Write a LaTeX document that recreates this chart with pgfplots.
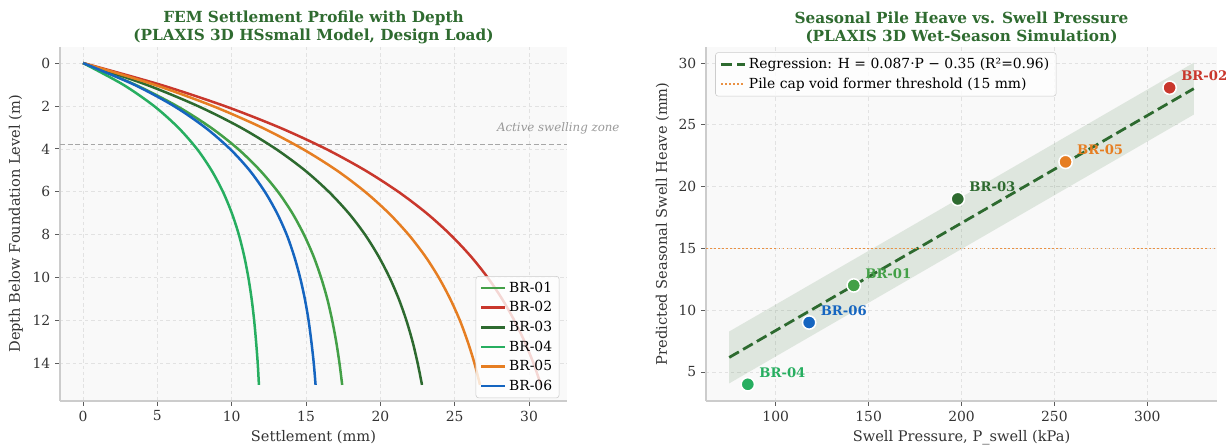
\documentclass[border=0pt]{standalone}
\usepackage{fontspec}
\setmainfont{DejaVu Serif}
\usepackage{pgfplots}
\pgfplotsset{compat=1.18}
\definecolor{cA}{HTML}{43A047}
\definecolor{cB}{HTML}{C9372C}
\definecolor{cC}{HTML}{2D6A2F}
\definecolor{cD}{HTML}{27AE60}
\definecolor{cE}{HTML}{E67E22}
\definecolor{cF}{HTML}{1565C0}
\definecolor{ttl}{HTML}{2F6B30}
\definecolor{bgc}{HTML}{F9F9F9}
\definecolor{gridc}{HTML}{E2E2E2}
\definecolor{spc}{HTML}{CCCCCC}
\definecolor{txc}{HTML}{333333}
\pgfplotsset{
  myax/.style={
    scale only axis,
    axis background/.style={fill=bgc},
    axis x line*=bottom, axis y line*=left,
    axis line style={draw=spc, line width=0.8pt, -},
    tick align=outside, major tick length=3.5pt,
    tick style={draw=txc!80, line width=0.6pt},
    xmajorgrids, ymajorgrids,
    grid style={dash pattern=on 2.5pt off 2pt, draw=gridc, line width=0.5pt},
    tick label style={font=\fontsize{10}{12}\selectfont, text=txc},
    label style={font=\fontsize{10.5}{12}\selectfont, text=txc},
    /pgf/number format/assume math mode=true,
    title style={font=\fontsize{11}{13}\selectfont\bfseries, text=ttl, align=center, yshift=-7.5pt},
    legend style={font=\fontsize{10}{12}\selectfont, draw=spc, fill=white, fill opacity=0.8, text opacity=1, rounded corners=2pt, row sep=1.2pt},
    legend cell align=left,
  }
}
\begin{document}
\begin{tikzpicture}
\useasboundingbox (0,0) rectangle (883.4pt,320.4pt);
\begin{axis}[myax,
  at={(43.2pt,31.7pt)}, anchor=south west, width=365pt, height=254.9pt,
  xmin=-1.55, xmax=32.55, ymin=-0.75, ymax=15.75, y dir=reverse,
  xtick={0,5,10,15,20,25,30}, ytick={0,2,4,6,8,10,12,14},
  xlabel={Settlement (mm)}, ylabel={Depth Below Foundation Level (m)},
  title={FEM Settlement Profile with Depth\\(PLAXIS 3D HSsmall Model, Design Load)},
  legend style={at={(0.985,0.008)}, anchor=south east},
  clip=false]
\addplot[forget plot, draw=black!35, line width=1.1pt, dash pattern=on 3.5pt off 2pt] coordinates {(-1.55,3.8)(32.55,3.8)};
\node[anchor=east, inner sep=0pt, font=\fontsize{8.5}{10}\selectfont\itshape, text=black!40] at (axis cs:36.1,3.03) {Active swelling zone};
\addplot[cA, line width=1.8pt, smooth] coordinates {(0,0)(3.48,1)(6.30,2)(8.58,3)(10.42,4)(11.90,5)(13.11,6)(14.08,7)(14.86,8)(15.50,9)(16.01,10)(16.43,11)(16.76,12)(17.03,13)(17.25,14)(17.43,15)};
\addlegendentry{BR-01}
\addplot[cB, line width=1.8pt, smooth] coordinates {(0,0)(5.15,1)(9.51,2)(13.20,3)(16.33,4)(18.97,5)(21.21,6)(23.11,7)(24.71,8)(26.07,9)(27.22,10)(28.19,11)(29.01,12)(29.71,13)(30.30,14)(30.80,15)};
\addlegendentry{BR-02}
\addplot[cC, line width=1.8pt, smooth] coordinates {(0,0)(4.22,1)(7.71,2)(10.59,3)(12.96,4)(14.92,5)(16.53,6)(17.87,7)(18.97,8)(19.87,9)(20.62,10)(21.24,11)(21.75,12)(22.17,13)(22.51,14)(22.80,15)};
\addlegendentry{BR-03}
\addplot[cD, line width=1.8pt, smooth] coordinates {(0,0)(2.68,1)(4.77,2)(6.39,3)(7.66,4)(8.64,5)(9.41,6)(10.01,7)(10.48,8)(10.84,9)(11.12,10)(11.34,11)(11.51,12)(11.64,13)(11.75,14)(11.83,15)};
\addlegendentry{BR-04}
\addplot[cE, line width=1.8pt, smooth] coordinates {(0,0)(4.75,1)(8.71,2)(12.01,3)(14.76,4)(17.06,5)(18.97,6)(20.57,7)(21.90,8)(23.01,9)(23.93,10)(24.70,11)(25.35,12)(25.88,13)(26.33,14)(26.70,15)};
\addlegendentry{BR-05}
\addplot[cF, line width=1.8pt, smooth] coordinates {(0,0)(3.41,1)(6.10,2)(8.21,3)(9.88,4)(11.20,5)(12.23,6)(13.05,7)(13.70,8)(14.20,9)(14.60,10)(14.92,11)(15.17,12)(15.36,13)(15.52,14)(15.64,15)};
\addlegendentry{BR-06}
\end{axis}

\begin{axis}[myax,
  at={(508.3pt,31.7pt)}, anchor=south west, width=367.9pt, height=254.9pt,
  xmin=62.5, xmax=337.5, ymin=2.65, ymax=31.3,
  xtick={100,150,200,250,300}, ytick={5,10,15,20,25,30},
  xlabel={Swell Pressure, P\_swell (kPa)}, ylabel={Predicted Seasonal Swell Heave (mm)},
  title={Seasonal Pile Heave vs. Swell Pressure\\(PLAXIS 3D Wet-Season Simulation)},
  legend style={at={(0.018,0.985)}, anchor=north west},
  clip=false]
\addplot[forget plot, draw=none, fill=cC, fill opacity=0.13] coordinates {(75,4.075)(325,25.825)(325,30.025)(75,8.275)} -- cycle;
\addplot[cC, line width=2pt, dash pattern=on 8pt off 3.5pt] coordinates {(75,6.175)(325,27.925)};
\addlegendentry{Regression: H = 0.087·P − 0.35 (R²=0.96)}
\addplot[cE!85, line width=1.1pt, dash pattern=on 1.1pt off 1.8pt] coordinates {(62.5,15)(337.5,15)};
\addlegendentry{Pile cap void former threshold (15 mm)}
\pgfplotsset{ptlab/.style={forget plot, only marks, mark=*, mark size=4.8pt,
   mark options={fill=#1, draw=white, line width=1.1pt},
   point meta=explicit symbolic, nodes near coords,
   every node near coord/.append style={anchor=west, xshift=4.5pt, yshift=8.5pt, font=\fontsize{9.5}{11}\selectfont\bfseries, text=#1}}}
\addplot[ptlab=cA] coordinates {(142,12)[BR-01]};
\addplot[ptlab=cB] coordinates {(312,28)[BR-02]};
\addplot[ptlab=cC] coordinates {(198,19)[BR-03]};
\addplot[ptlab=cD] coordinates {(85,4)[BR-04]};
\addplot[ptlab=cE] coordinates {(256,22)[BR-05]};
\addplot[ptlab=cF] coordinates {(118,9)[BR-06]};
\end{axis}
\end{tikzpicture}
\end{document}
